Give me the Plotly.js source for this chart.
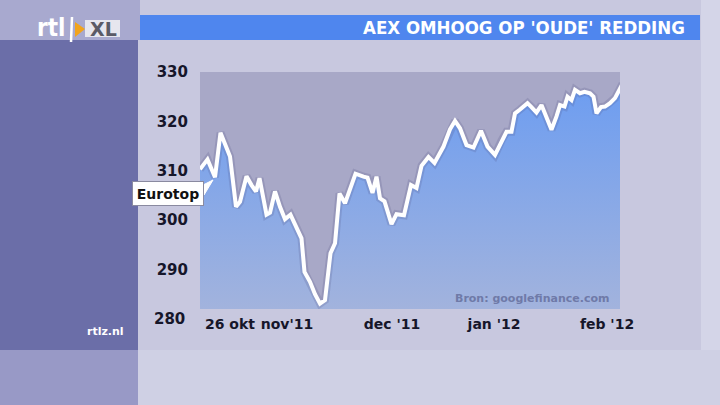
<!DOCTYPE html>
<html>
<head>
<meta charset="utf-8">
<script src="https://cdn.plot.ly/plotly-3.0.1.min.js"></script>
<style>html,body{margin:0;padding:0;background:#c8c8df;}#chart{width:720px;height:405px;}</style>
</head>
<body>
<div id="chart"></div>
<script>
// ---- data ----
const tradeDay = [0,1.5,3,4.1,6,7.2,8,9.3,10.3,11.2,11.9,13.3,14,15,16,17,18.1,19.3,20.3,20.9,22,23,24,25,26.1,27,27.9,29,30.3,31.1,32.7,33.5,34.5,35.3,36,36.9,38.3,39.3,40.8,42.2,43.3,44.3,45.7,46.9,48.7,50,51,52,53.3,54.7,56.2,57.5,59,60.3,61.3,62.3,63,64,65,65.5,66.2,67.3,68.3,69.5,70.3,71.3,72,72.9,73.5,74.3,75,76,76.9,78,78.7,79.3,80.2,81,82,83,84.5];
const eurotop = [310.3,312.3,308.7,317.7,312.9,302.7,303.7,308.9,307.1,305.8,308.5,301.1,301.5,305.8,302.7,300.2,301.1,298.7,296.3,289.5,287.5,285.0,283.1,283.8,293.3,295.3,305.4,303.4,307.2,309.4,308.8,308.6,305.5,308.8,304.4,303.8,299.2,301.2,301.0,307.1,306.5,311.0,312.8,311.6,314.9,318.4,320.1,318.6,315.2,314.7,318.1,314.9,313.2,316.1,317.9,317.9,321.6,322.4,323.3,323.7,323.0,321.8,323.3,320.4,318.3,321.0,323.3,323.0,325.0,324.3,326.4,325.7,326.0,325.7,325.0,321.6,322.9,323.0,323.7,324.7,327.6];
const xTickPos = [6,17.4,38.4,58.8,81.4];
const xTickText = ["26 okt","nov'11","dec '11","jan '12","feb '12"];
const yTickVals = [290,300,310,320,330];
const yExtraTick = 280;
const titleText = "AEX OMHOOG OP 'OUDE' REDDING";
const seriesName = "Eurotop";
const sourceText = "Bron: googlefinance.com";

// ---- layout helpers (pixel -> paper) ----
const W = 720, H = 405, L = 200, R = 620, T = 72, B = 309;
const X = px => (px - L) / (R - L);
const Y = py => (B - py) / (B - T);
function rect(x0, y0, x1, y1, color) {
  return {type:'rect', xref:'paper', yref:'paper', x0:X(x0), x1:X(x1), y0:Y(y1), y1:Y(y0),
          fillcolor:color, line:{width:0}, layer:'below'};
}

const shapes = [
  rect(0, 0, 140, 40, '#a8a9cf'),
  rect(0, 40, 138, 350, '#6b6ea8'),
  rect(0, 350, 138, 405, '#9899c6'),
  rect(138, 350, 720, 405, '#cfd0e4'),
  rect(701, 0, 720, 350, '#d4d5e8'),
  rect(140, 15, 700, 40, '#4f86ee'),
  // logo pieces
  {type:'line', xref:'paper', yref:'paper', x0:X(72), x1:X(71), y0:Y(17), y1:Y(42),
   line:{color:'#ffffff', width:2.5}},
  {type:'path', xref:'paper', yref:'paper', layer:'above',
   path:`M ${X(75)} ${Y(22)} L ${X(85)} ${Y(29)} L ${X(75)} ${Y(37)} Z`,
   fillcolor:'#f2a41c', line:{width:0}},
  rect(85, 20, 120, 37, '#e6e6ee'),
  // Eurotop callout pointer
  {type:'path', xref:'paper', yref:'paper', layer:'above',
   path:`M ${X(201)} ${Y(186)} L ${X(213)} ${Y(180)} L ${X(204)} ${Y(195)} Z`,
   fillcolor:'#ffffff', line:{color:'#ffffff', width:1}}
];

const annotations = [
  {xref:'paper', yref:'paper', x:X(687), y:Y(27.5), xanchor:'right', yanchor:'middle', showarrow:false,
   text:titleText, font:{family:'DejaVu Sans Condensed, DejaVu Sans', size:18.5, color:'#ffffff', weight:'bold'}},
  {xref:'paper', yref:'paper', x:X(187), y:Y(319), xanchor:'right', yanchor:'middle', showarrow:false,
   text:String(yExtraTick), font:{family:'DejaVu Sans', size:15, color:'#16162a', weight:'bold'}},
  {xref:'paper', yref:'paper', x:X(168), y:Y(193.5), xanchor:'center', yanchor:'middle', showarrow:false,
   text:seriesName, bgcolor:'#ffffff', bordercolor:'#8a8aa0', borderwidth:1, borderpad:2,
   width:66, height:19, font:{family:'DejaVu Sans', size:14, color:'#111111', weight:'bold'}},
  {xref:'paper', yref:'paper', x:X(611), y:Y(298), xanchor:'right', yanchor:'middle', showarrow:false,
   text:sourceText, font:{family:'DejaVu Sans', size:11, color:'#6f7aa8', weight:'bold'}},
  {xref:'paper', yref:'paper', x:X(51), y:Y(28), xanchor:'center', yanchor:'middle', showarrow:false,
   text:'rtl', font:{family:'DejaVu Sans Condensed, DejaVu Sans', size:24, color:'#ffffff', weight:'bold'}},
  {xref:'paper', yref:'paper', x:X(103), y:Y(29), xanchor:'center', yanchor:'middle', showarrow:false,
   text:'XL', font:{family:'DejaVu Sans', size:19, color:'#5a5a66', weight:'bold'}},
  {xref:'paper', yref:'paper', x:X(105), y:Y(331), xanchor:'center', yanchor:'middle', showarrow:false,
   text:'rtlz.nl', font:{family:'DejaVu Sans', size:11, color:'#ffffff', weight:'bold'}}
];

const traces = [
  {x:tradeDay, y:eurotop, type:'scatter', mode:'lines', fill:'tozeroy',
   fillgradient:{type:'vertical', start:282, stop:330, colorscale:[[0,'#a2b3dd'],[1,'#6a9cf2']]},
   line:{color:'rgba(70,70,120,0.18)', width:8, shape:'linear'}, hoverinfo:'skip'},
  {x:tradeDay, y:eurotop, type:'scatter', mode:'lines',
   line:{color:'#ffffff', width:4, shape:'linear'}, hoverinfo:'skip'}
];

const layout = {
  width:W, height:H, showlegend:false,
  paper_bgcolor:'#c8c8df', plot_bgcolor:'#a8a8c7',
  margin:{l:L, r:W-R, t:T, b:H-B, pad:0},
  xaxis:{range:[0,84], showgrid:false, zeroline:false, showline:false, ticks:'',
         tickmode:'array', tickvals:xTickPos, ticktext:xTickText, ticklabelstandoff:5,
         tickfont:{family:'DejaVu Sans', size:14, color:'#16162a', weight:'bold'}},
  yaxis:{range:[282,330], showgrid:false, zeroline:false, showline:false, ticks:'',
         tickmode:'array', tickvals:yTickVals, ticklabelstandoff:11,
         tickfont:{family:'DejaVu Sans', size:15, color:'#16162a', weight:'bold'}},
  shapes:shapes, annotations:annotations
};

Plotly.newPlot('chart', traces, layout, {staticPlot:true, displayModeBar:false});
</script>
</body>
</html>
